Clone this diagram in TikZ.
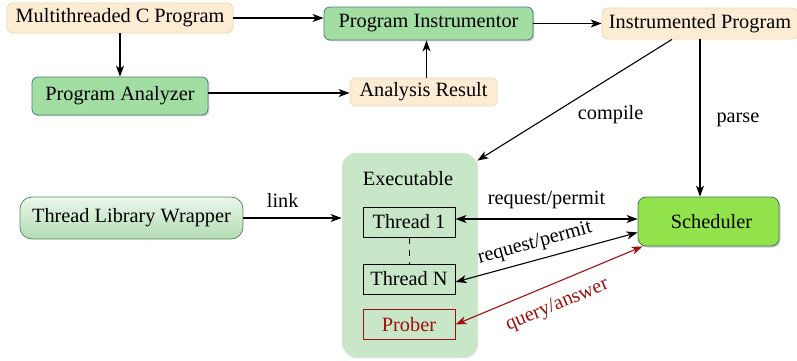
\documentclass[tikz,border=0pt]{standalone}
\usepackage{fontspec}
\setmainfont{Liberation Serif}
\usetikzlibrary{arrows.meta}
\usetikzlibrary{shadows}
\definecolor{peach}{RGB}{253,236,212}
\definecolor{peachline}{RGB}{240,216,178}
\definecolor{toolgreen}{RGB}{162,222,162}
\definecolor{toolline}{RGB}{72,122,128}
\definecolor{libtop}{RGB}{236,247,236}
\definecolor{libbot}{RGB}{178,219,178}
\definecolor{libline}{RGB}{92,140,92}
\definecolor{exefill}{RGB}{200,231,200}
\definecolor{schedfill}{RGB}{146,226,76}
\definecolor{schedline}{RGB}{70,120,90}
\definecolor{probered}{RGB}{160,16,16}

\begin{document}
\begin{tikzpicture}[x=0.5pt, y=-0.5pt, font=\fontsize{10.15}{12}\selectfont,
    >={Stealth[length=5.5pt, width=4pt, inset=1.5pt]},
    filebox/.style={rectangle, rounded corners=3pt, draw=peachline, fill=peach, inner sep=0pt},
    toolbox/.style={rectangle, rounded corners=3pt, draw=toolline, fill=toolgreen, inner sep=0pt,
        drop shadow={shadow xshift=0.7pt, shadow yshift=-0.7pt, opacity=0.35}},
    threadbox/.style={rectangle, draw=black, line width=0.5pt, inner sep=0pt,
        minimum width=46pt, minimum height=15pt},
    flow/.style={->, line width=0.55pt},
    tag/.style={inner sep=0pt}]
    \useasboundingbox (0, 0) rectangle (797, 360);

    \node[filebox, minimum width=113pt, minimum height=15pt] (mcp) at (120, 18) {Multithreaded C Program};
    \node[toolbox, minimum width=104.5pt, minimum height=16.5pt] (instr) at (428.5, 23.5) {Program Instrumentor};
    \node[filebox, minimum width=98pt, minimum height=15.5pt] (instd) at (700, 23.5) {Instrumented Program};
    \node[toolbox, minimum width=88pt, minimum height=19pt] (analyzer) at (120, 96) {Program Analyzer};
    \node[filebox, minimum width=73.5pt, minimum height=14pt] (result) at (423.5, 92) {Analysis Result};

    \node[rectangle, rounded corners=6pt, draw=libline, top color=libtop, bottom color=libbot,
        minimum width=111.5pt, minimum height=21pt, inner sep=0pt] (wrapper) at (131.5, 218) {Thread Library Wrapper};

    \node[rectangle, rounded corners=7pt, fill=exefill, minimum width=67.5pt, minimum height=102pt,
        drop shadow={shadow xshift=0.6pt, shadow yshift=-0.6pt, opacity=0.25}] (exec) at (409.5, 255) {};
    \node (exlabel) at (408, 179) {Executable};
    \node[threadbox] (t1) at (409, 222) {Thread 1};
    \node[threadbox] (tn) at (409, 279) {Thread N};
    \node[threadbox, draw=probered, text=probered] (prober) at (409, 324.5) {Prober};
    \draw[dashed, line width=0.5pt] (t1.south) -- (tn.north);

    \node[rectangle, rounded corners=4pt, draw=schedline, fill=schedfill, inner sep=0pt,
        minimum width=70.5pt, minimum height=24.5pt,
        drop shadow={shadow xshift=0.8pt, shadow yshift=-0.8pt, opacity=0.4}] (sched) at (708.5, 221.5) {\hspace{3pt}Scheduler};

    \draw[flow] (mcp.east) -- (mcp.east -| instr.west);
    \draw[flow] (mcp.south) -- (analyzer.north);
    \draw[flow] ([yshift=1.5pt]analyzer.east) -- ([yshift=1.5pt]analyzer.east -| result.west);
    \draw[flow] ([xshift=1.5pt]result.north) -- ([xshift=1.5pt]result.north |- instr.south);
    \draw[flow] (instr.east) -- (instd.west);
    \draw[flow] ([xshift=-14pt]instd.south) -- ([yshift=-4pt]exec.north east)
        node[tag, pos=0.62, anchor=west, xshift=13pt] (compilelabel) {compile};
    \draw[flow] (instd.south) -- (instd.south |- sched.north)
        node[tag, pos=0.51, anchor=west, xshift=8pt] (parselabel) {parse};
    \draw[flow] (wrapper.east) -- (wrapper.east -| exec.west)
        node[tag, pos=0.4, above=5pt] (linklabel) {link};
    \draw[<->, line width=0.55pt] ([yshift=1.5pt]t1.east) -- ([yshift=1.5pt]t1.east -| sched.west)
        node[tag, midway, above=5pt] (reqone) {request/permit};
    \draw[<->, line width=0.55pt] ([yshift=-1.5pt]tn.east) -- ([yshift=-5.5pt]sched.west)
        node[tag, pos=0.46, sloped, above=3.5pt] (reqn) {request/permit};
    \draw[<->, line width=0.55pt, draw=probered] (prober.east) -- ([xshift=2.5pt]sched.south west)
        node[tag, pos=0.5, sloped, below=6pt, text=probered] (querylabel) {query/answer};
\end{tikzpicture}
\end{document}
